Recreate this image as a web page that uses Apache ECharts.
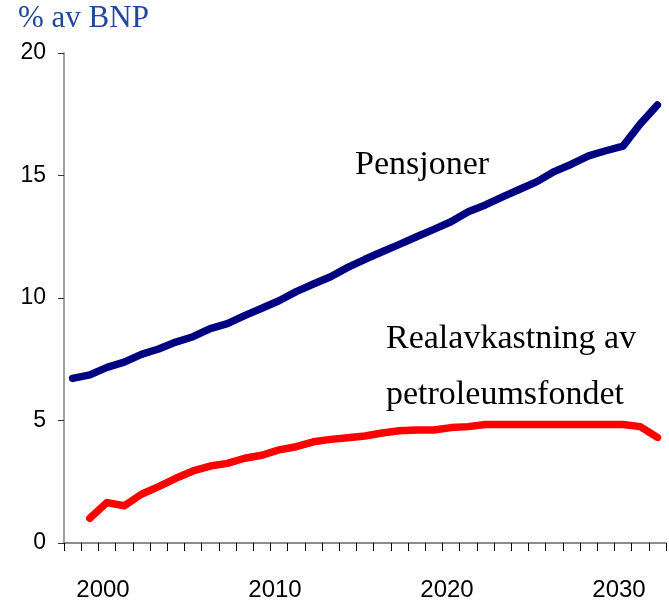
<!DOCTYPE html>
<html>
<head>
<meta charset="utf-8">
<script src="https://cdn.jsdelivr.net/npm/echarts@6/dist/echarts.min.js"></script>
<style>
html,body{margin:0;padding:0;background:#fff;}
#chart{width:669px;height:603px;}
</style>
</head>
<body>
<div id="chart"></div>
<script>
const years = [];
for (let y = 1998; y <= 2032; y++) years.push(String(y));

const pensjoner = [6.72, 6.86, 7.17, 7.38, 7.70, 7.92, 8.20, 8.42, 8.75, 8.95,
  9.28, 9.58, 9.89, 10.26, 10.57, 10.87, 11.25, 11.58, 11.89, 12.19,
  12.50, 12.80, 13.11, 13.52, 13.80, 14.13, 14.44, 14.75, 15.16, 15.46,
  15.80, 16.01, 16.20, 17.10, 17.88];

const realavkastning = [null, 1.01, 1.65, 1.52, 1.99, 2.30, 2.64, 2.94, 3.14, 3.25,
  3.46, 3.58, 3.80, 3.93, 4.13, 4.23, 4.30, 4.37, 4.49, 4.58,
  4.61, 4.61, 4.71, 4.75, 4.84, 4.84, 4.84, 4.84, 4.84, 4.84,
  4.84, 4.84, 4.84, 4.75, 4.31];

const yTicks = [0, 5, 10, 15, 20];
const xLabelYears = ['2000', '2010', '2020', '2030'];

const chart = echarts.init(document.getElementById('chart'));
chart.setOption({
  animation: false,
  backgroundColor: '#fff',
  grid: { left: 64, right: 3, top: 53, bottom: 60, containLabel: false },
  xAxis: {
    type: 'category',
    data: years,
    boundaryGap: true,
    axisLine: { lineStyle: { color: '#666', width: 1.5 } },
    axisTick: { show: true, interval: 0, length: 8, inside: false, lineStyle: { color: '#000', width: 1 } },
    axisLabel: {
      interval: 0,
      formatter: function (v) { return xLabelYears.indexOf(v) >= 0 ? v : ''; },
      margin: 35,
      padding: [0, 8, 0, 0],
      fontFamily: 'Liberation Sans, Arial, sans-serif',
      fontSize: 24,
      color: '#000'
    },
    splitLine: { show: false }
  },
  yAxis: {
    type: 'value',
    min: yTicks[0],
    max: yTicks[yTicks.length - 1],
    interval: 5,
    axisLine: { show: true, lineStyle: { color: '#808080', width: 1.5 } },
    axisTick: { show: true, length: 6, lineStyle: { color: '#333', width: 1 } },
    axisLabel: {
      margin: 18,
      fontFamily: 'Liberation Sans, Arial, sans-serif',
      fontSize: 23,
      color: '#000'
    },
    splitLine: { show: false }
  },
  series: [
    {
      name: 'Pensjoner',
      type: 'line',
      data: pensjoner,
      symbol: 'none',
      lineStyle: { color: '#000080', width: 7.5, cap: 'round', join: 'round' },
      itemStyle: { color: '#000080' }
    },
    {
      name: 'Realavkastning av petroleumsfondet',
      type: 'line',
      data: realavkastning,
      symbol: 'none',
      connectNulls: false,
      lineStyle: { color: '#ff0000', width: 7.5, cap: 'round', join: 'round' },
      itemStyle: { color: '#ff0000' }
    }
  ],
  graphic: [
    {
      type: 'text', left: 18, top: 3,
      style: { text: '% av BNP', font: '31px "Liberation Serif", "Times New Roman", serif', fill: '#22479c' }
    },
    {
      type: 'text', left: 355, top: 148,
      style: { text: 'Pensjoner', font: '34px "Liberation Serif", "Times New Roman", serif', fill: '#000' }
    },
    {
      type: 'text', left: 386, top: 322,
      style: { text: 'Realavkastning av', font: '34px "Liberation Serif", "Times New Roman", serif', fill: '#000' }
    },
    {
      type: 'text', left: 386, top: 378,
      style: { text: 'petroleumsfondet', font: '34px "Liberation Serif", "Times New Roman", serif', fill: '#000' }
    }
  ]
});
</script>
</body>
</html>
